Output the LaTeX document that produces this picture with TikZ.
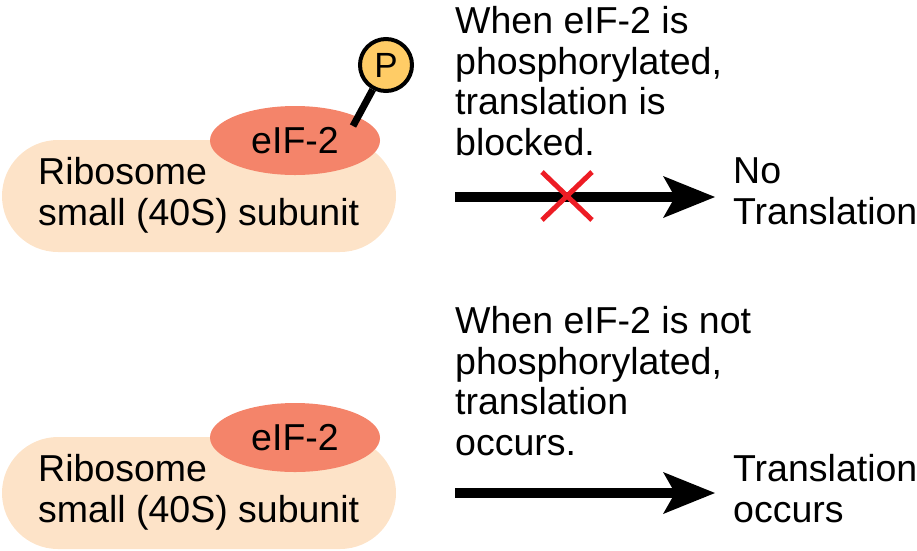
\documentclass[tikz,border=0pt]{standalone}
\usepackage{fontspec}
\setmainfont{Liberation Sans}
\usetikzlibrary{shapes.geometric,arrows.meta}
\definecolor{ribofill}{HTML}{FDE3C8}
\definecolor{eiffill}{HTML}{F4846A}
\definecolor{pfill}{HTML}{FFCC66}
\definecolor{xred}{HTML}{ED1C24}
\tikzset{
  ribo/.style={rectangle, fill=ribofill, minimum width=394pt, minimum height=112pt, rounded corners=56pt, inner sep=0pt},
  eif/.style={ellipse, fill=eiffill, minimum width=170pt, minimum height=69pt, inner sep=0pt, font=\fontsize{37.5}{40.5}\selectfont},
  txt/.style={anchor=base west, inner sep=0pt, align=left, font=\fontsize{37.5}{40.5}\selectfont},
  pcirc/.style={circle, draw=black, line width=4pt, fill=pfill, minimum size=52pt, inner sep=0pt, font=\fontsize{35}{38}\selectfont},
  bigarrow/.style={line width=10pt, -{Stealth[length=52pt, width=42pt, inset=12pt, line width=0pt]}},
  xline/.style={xred, line width=5pt},
  stick/.style={line width=7pt}
}
\begin{document}
\begin{tikzpicture}[x=1pt, y=-1pt]
\useasboundingbox (0,0) rectangle (917,550);
% top
\node[ribo] (r1) at (199,196) {};
\node[txt] (r1t) at (38,225) {Ribosome\\small (40S) subunit};
\node[eif] (e1) at (295,140.5) {eIF-2};
\node[pcirc] (p1) at (386,65) {P};
\coordinate (s1) at (353,126);
\draw[stick] (s1) -- (p1);
\node[txt] (t1) at (455,155) {When eIF-2 is\\phosphorylated,\\translation is\\blocked.};
\coordinate (a1s) at (455,197);
\coordinate (a1e) at (715,197);
\draw[bigarrow] (a1s) -- (a1e);
\coordinate (x1a) at (542,172);
\coordinate (x1b) at (592,220);
\coordinate (x1c) at (542,220);
\coordinate (x1d) at (592,172);
\draw[xline] (x1a) -- (x1b);
\draw[xline] (x1c) -- (x1d);
\node[txt] (o1) at (733,224) {No\\Translation};
% bottom
\node[ribo] (r2) at (199,493) {};
\node[txt] (r2t) at (38,522) {Ribosome\\small (40S) subunit};
\node[eif] (e2) at (295,437.5) {eIF-2};
\node[txt] (t2) at (455,455) {When eIF-2 is not\\phosphorylated,\\translation\\occurs.};
\coordinate (a2s) at (455,493);
\coordinate (a2e) at (715,493);
\draw[bigarrow] (a2s) -- (a2e);
\node[txt] (o2) at (733,522) {Translation\\occurs};
\end{tikzpicture}
\end{document}
